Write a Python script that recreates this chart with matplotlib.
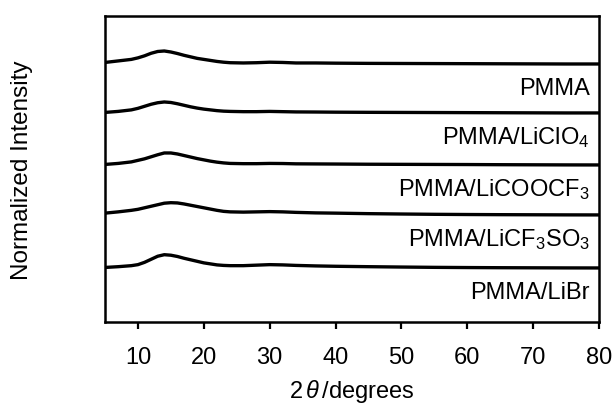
import matplotlib
matplotlib.use("Agg")
import matplotlib.pyplot as plt

plt.rcParams["font.family"] = "Liberation Sans"
plt.rcParams["mathtext.fontset"] = "custom"
plt.rcParams["mathtext.rm"] = "Liberation Sans"
plt.rcParams["mathtext.it"] = "Liberation Sans:italic"

# Data
two_theta = [5, 7, 9, 10, 11, 12, 13, 14, 15, 16, 17, 18, 19, 20, 21, 22, 23, 24,
             26, 28, 30, 32, 34, 37, 40, 45, 50, 55, 60, 65, 70, 75, 80]

pmma = [0.03, 0.06, 0.09, 0.12, 0.16, 0.21, 0.245, 0.255, 0.235, 0.205, 0.17, 0.14,
        0.11, 0.09, 0.07, 0.05, 0.035, 0.025, 0.02, 0.025, 0.035, 0.03, 0.02, 0.02,
        0.016, 0.012, 0.01, 0.008, 0.006, 0.004, 0.002, 0, 0]
pmma_liclo4 = [0.01, 0.03, 0.06, 0.09, 0.13, 0.17, 0.2, 0.215, 0.205, 0.18, 0.15, 0.12,
               0.095, 0.075, 0.06, 0.045, 0.035, 0.03, 0.025, 0.025, 0.03, 0.025, 0.02,
               0.018, 0.015, 0.012, 0.01, 0.008, 0.006, 0.004, 0.002, 0, 0]
pmma_licoocf3 = [0.01, 0.03, 0.06, 0.09, 0.12, 0.16, 0.2, 0.235, 0.235, 0.215, 0.185,
                 0.155, 0.125, 0.1, 0.075, 0.055, 0.04, 0.03, 0.025, 0.025, 0.03, 0.028,
                 0.022, 0.02, 0.018, 0.014, 0.012, 0.01, 0.008, 0.005, 0.003, 0.001, 0]
pmma_licf3so3 = [0.035, 0.06, 0.09, 0.11, 0.14, 0.17, 0.2, 0.23, 0.24, 0.235, 0.215,
                 0.19, 0.165, 0.14, 0.115, 0.09, 0.07, 0.06, 0.055, 0.06, 0.065, 0.06,
                 0.05, 0.04, 0.035, 0.025, 0.018, 0.012, 0.008, 0.005, 0.003, 0.001, 0]
pmma_libr = [0.01, 0.025, 0.045, 0.065, 0.11, 0.17, 0.23, 0.26, 0.25, 0.225, 0.19, 0.16,
             0.13, 0.1, 0.08, 0.06, 0.05, 0.045, 0.045, 0.055, 0.065, 0.06, 0.05, 0.04,
             0.033, 0.025, 0.018, 0.012, 0.008, 0.005, 0.003, 0.001, 0]

series = [pmma, pmma_liclo4, pmma_licoocf3, pmma_licf3so3, pmma_libr]
labels = ["PMMA", r"PMMA/LiClO$_4$", r"PMMA/LiCOOCF$_3$",
          r"PMMA/LiCF$_3$SO$_3$", "PMMA/LiBr"]
offsets = [5.06, 4.10, 3.08, 2.10, 1.06]

fig = plt.figure(figsize=(6.14, 4.06), dpi=100)
ax = fig.add_axes([0.171, 0.2044, 0.8046, 0.7536])

for y, lab, off in zip(series, labels, offsets):
    ax.plot(two_theta, [v + off for v in y], color="black", lw=2.4)
    ax.text(78.6, off - 0.59, lab, ha="right", va="baseline", fontsize=17)

ax.set_xlim(5, 80)
ax.set_ylim(0, 6)
ax.set_xticks(range(10, 81, 10))
ax.set_yticks([])
ax.tick_params(axis="x", direction="out", length=5, width=1.6, labelsize=17, pad=12)
for s in ax.spines.values():
    s.set_linewidth(1.8)

ax.set_xlabel(r"2$\,\theta\,$/degrees", fontsize=17)
ax.xaxis.set_label_coords(0.5, -0.18)
ax.set_ylabel("Normalized Intensity", fontsize=17.5)
ax.yaxis.set_label_coords(-0.146, 0.5)

fig.savefig("out.png", dpi=100)
